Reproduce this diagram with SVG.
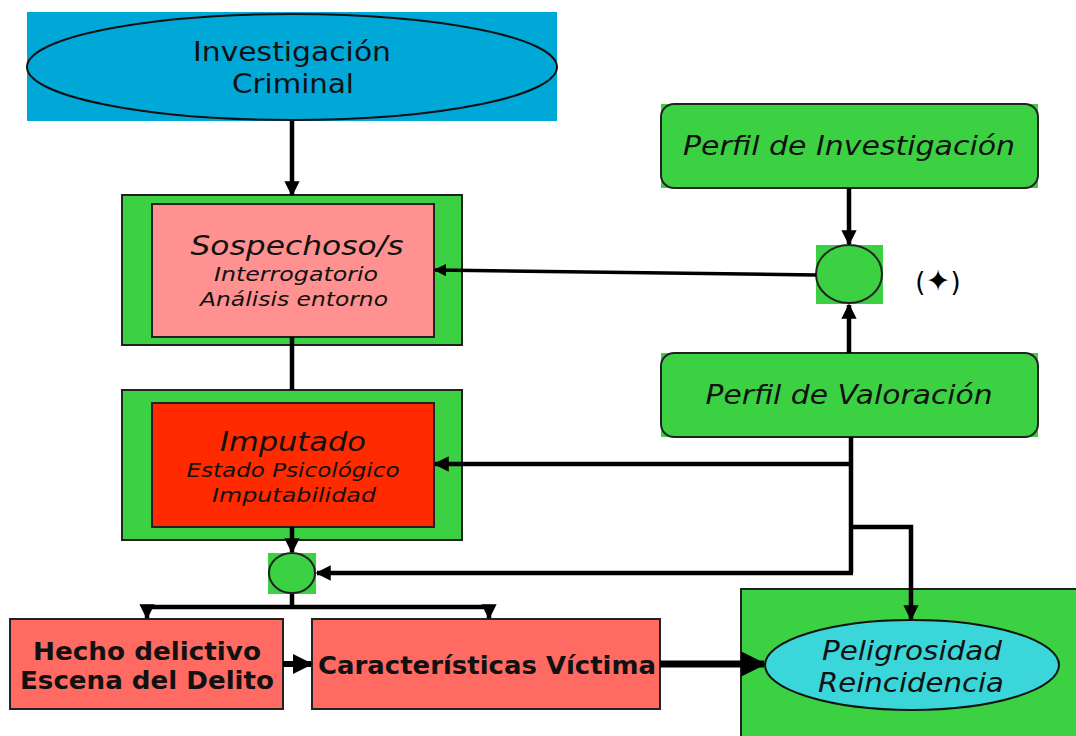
<svg xmlns="http://www.w3.org/2000/svg" width="1076" height="736" viewBox="0 0 1076 736">
<style>
.t{font-family:"DejaVu Sans",Verdana,sans-serif;fill:#111;text-anchor:middle}
.i{font-style:italic}
.b{font-weight:bold}
.g{fill:#3BD143}
.edge{stroke:#000;fill:none;stroke-width:4.5}
.ol{stroke:#222;stroke-width:2}
</style>
<defs>
<marker id="ah" viewBox="0 0 10 10" refX="9" refY="5" markerWidth="3.4" markerHeight="3.4" orient="auto" markerUnits="strokeWidth">
<path d="M0,0 L10,5 L0,10 z" fill="#000"/>
</marker>
<marker id="ah2" viewBox="0 0 10 10" refX="9" refY="5" markerWidth="3.6" markerHeight="3.6" orient="auto" markerUnits="strokeWidth">
<path d="M0,0 L10,5 L0,10 z" fill="#000"/>
</marker>
</defs>
<rect width="1076" height="736" fill="#fff"/>

<g id="investigacion">
<rect x="27" y="12" width="530" height="109" fill="#00A8D8"/>
<ellipse cx="292" cy="67" rx="265" ry="53" fill="#00A8D8" stroke="#111" stroke-width="2"/>
<text class="t" x="292" y="61" font-size="26" textLength="198" lengthAdjust="spacingAndGlyphs">Investigación</text>
<text class="t" x="293" y="93" font-size="26" textLength="122" lengthAdjust="spacingAndGlyphs">Criminal</text>
</g>

<g id="sospechoso">
<rect x="122" y="195" width="340" height="150" class="g ol"/>
<rect x="152" y="204" width="282" height="133" fill="#FF9191" class="ol"/>
<text class="t i" x="297" y="255" font-size="26" textLength="213" lengthAdjust="spacingAndGlyphs">Sospechoso/s</text>
<text class="t i" x="296" y="281" font-size="19" textLength="164" lengthAdjust="spacingAndGlyphs">Interrogatorio</text>
<text class="t i" x="294" y="306" font-size="19" textLength="188" lengthAdjust="spacingAndGlyphs">Análisis entorno</text>
</g>

<g id="imputado">
<rect x="122" y="390" width="340" height="150" class="g ol"/>
<rect x="152" y="403" width="282" height="124" fill="#FF2A00" class="ol"/>
<text class="t i" x="293" y="451" font-size="26" textLength="146" lengthAdjust="spacingAndGlyphs">Imputado</text>
<text class="t i" x="293" y="477" font-size="19" textLength="213" lengthAdjust="spacingAndGlyphs">Estado Psicológico</text>
<text class="t i" x="294" y="502" font-size="19" textLength="164" lengthAdjust="spacingAndGlyphs">Imputabilidad</text>
</g>

<g id="nodo1">
<rect x="268" y="553" width="48" height="41" class="g"/>
<ellipse cx="292" cy="573" rx="23" ry="20" class="g ol"/>
</g>

<g id="hecho">
<rect x="10" y="619" width="273" height="90" fill="#FF6B63" class="ol"/>
<text class="t b" x="147" y="660" font-size="24" textLength="228" lengthAdjust="spacingAndGlyphs">Hecho delictivo</text>
<text class="t b" x="147" y="689" font-size="24" textLength="254" lengthAdjust="spacingAndGlyphs">Escena del Delito</text>
</g>

<g id="caracteristicas">
<rect x="312" y="619" width="348" height="90" fill="#FF6B63" class="ol"/>
<text class="t b" x="487" y="674" font-size="24" textLength="338" lengthAdjust="spacingAndGlyphs">Características Víctima</text>
</g>

<g id="peligrosidad">
<rect x="741" y="589" width="340" height="152" class="g ol"/>
<ellipse cx="912" cy="665" rx="147" ry="45" fill="#3AD6D9" stroke="#111" stroke-width="2"/>
<text class="t i" x="912" y="660" font-size="26" textLength="180" lengthAdjust="spacingAndGlyphs">Peligrosidad</text>
<text class="t i" x="911" y="692" font-size="26" textLength="186" lengthAdjust="spacingAndGlyphs">Reincidencia</text>
</g>

<g id="perfil-investigacion">
<rect x="661" y="104" width="377" height="84" class="g"/>
<rect x="661" y="104" width="377" height="84" rx="13" class="g ol"/>
<text class="t i" x="849" y="155" font-size="26" textLength="332" lengthAdjust="spacingAndGlyphs">Perfil de Investigación</text>
</g>

<g id="nodo2">
<rect x="816" y="245" width="67" height="59" class="g"/>
<ellipse cx="849" cy="274" rx="33" ry="29" class="g ol"/>
<text x="938" y="291" font-size="26" font-family="DejaVu Sans,sans-serif" fill="#000" text-anchor="middle">(<tspan font-size="30">✦</tspan>)</text>
</g>

<g id="perfil-valoracion">
<rect x="661" y="353" width="377" height="84" class="g"/>
<rect x="661" y="353" width="377" height="84" rx="13" class="g ol"/>
<text class="t i" x="849" y="404" font-size="26" textLength="287" lengthAdjust="spacingAndGlyphs">Perfil de Valoración</text>
</g>

<g id="connectors">
<path class="edge" d="M292,121 V195" marker-end="url(#ah)"/>
<path class="edge" d="M292,337 V390"/>
<path class="edge" d="M292,527 V552" marker-end="url(#ah)"/>
<path class="edge" d="M292,594 V607"/>
<path class="edge" d="M145,607 H491"/>
<path class="edge" d="M147,607 V618" marker-end="url(#ah)"/>
<path class="edge" d="M489,607 V618" marker-end="url(#ah)"/>
<path class="edge" d="M283,664 H311" style="stroke-width:6" marker-end="url(#ah)"/>
<path class="edge" d="M660,664 H764" style="stroke-width:7" marker-end="url(#ah2)"/>
<path class="edge" d="M849,188 V244" marker-end="url(#ah)"/>
<path class="edge" d="M849,353 V305" marker-end="url(#ah)"/>
<path class="edge" d="M816,275 L435,270" style="stroke-width:3.5" marker-end="url(#ah2)"/>
<path class="edge" d="M851,437 V573"/>
<path class="edge" d="M851,464 H435" marker-end="url(#ah)"/>
<path class="edge" d="M853,573 H317" marker-end="url(#ah)"/>
<path class="edge" d="M851,527 H911 V619" marker-end="url(#ah)"/>
</g>
</svg>
